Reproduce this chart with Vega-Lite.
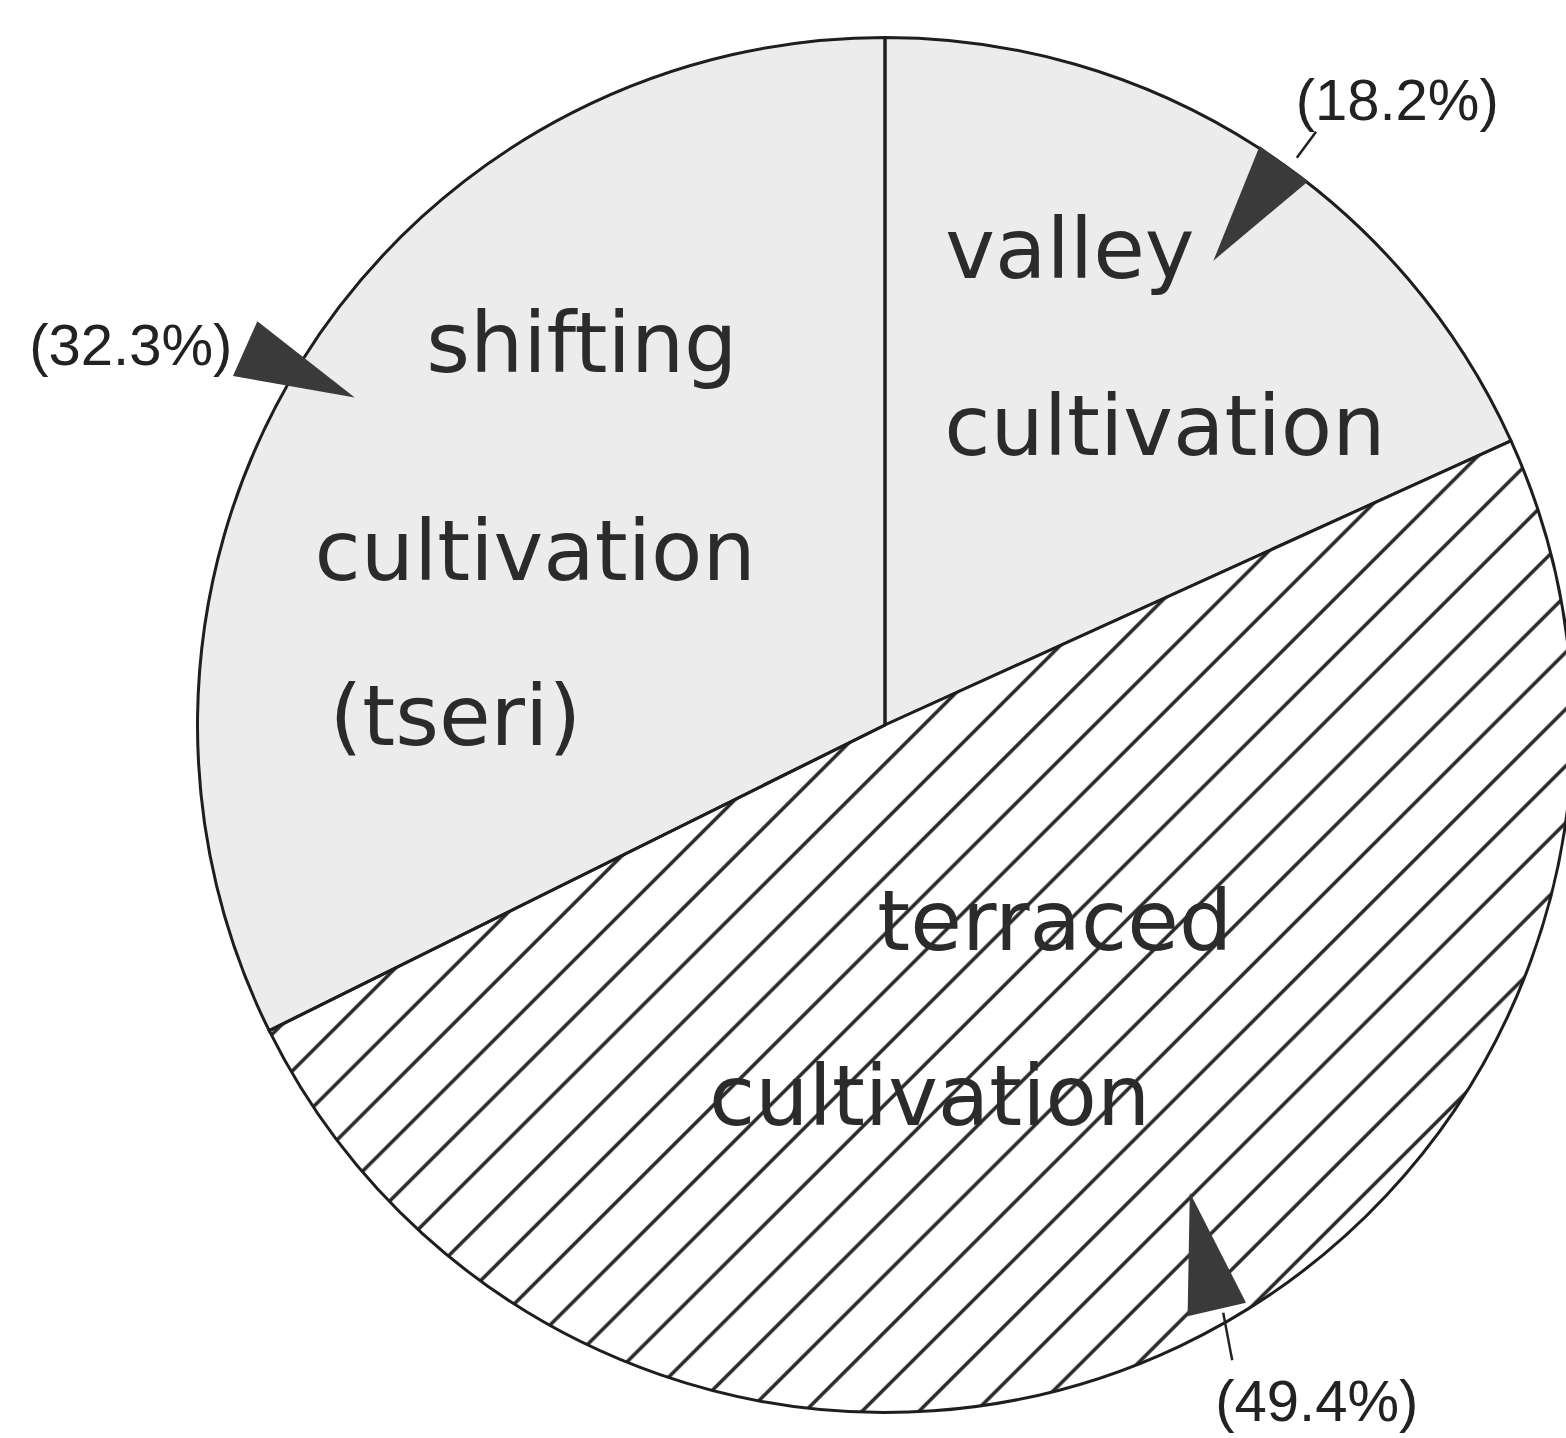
{
  "$schema": "https://vega.github.io/schema/vega-lite/v6.json",
  "width": 1362,
  "height": 1375,
  "autosize": "none",
  "padding": {"left": 204, "top": 37.5, "right": 0, "bottom": 25.5},
  "background": "white",
  "config": {"view": {"stroke": null}},
  "datasets": {
    "slices": [
      {"category": "valley cultivation", "share": 18.2, "ord": 1, "pattern": "dots"},
      {"category": "terraced cultivation", "share": 49.4, "ord": 2, "pattern": "hatch"},
      {"category": "shifting cultivation (tseri)", "share": 32.3, "ord": 3, "pattern": "dots"}
    ],
    "labels": [
      {"text": "valley", "u": 0.269, "v": 0.650},
      {"text": "cultivation", "u": 0.407, "v": 0.393},
      {"text": "shifting", "u": -0.441, "v": 0.513},
      {"text": "cultivation", "u": -0.509, "v": 0.211},
      {"text": "(tseri)", "u": -0.625, "v": -0.029},
      {"text": "terraced", "u": 0.247, "v": -0.327},
      {"text": "cultivation", "u": 0.065, "v": -0.582}
    ],
    "pcts": [
      {"text": "(18.2%)", "u": 0.745, "v": 0.880},
      {"text": "(32.3%)", "u": -1.097, "v": 0.524},
      {"text": "(49.4%)", "u": 0.628, "v": -1.012}
    ],
    "leaders": [
      {"id": "valley", "u": 0.599, "v": 0.825},
      {"id": "valley", "u": 0.627, "v": 0.863},
      {"id": "terraced", "u": 0.492, "v": -0.855},
      {"id": "terraced", "u": 0.505, "v": -0.924}
    ],
    "arrows": [
      {"id": "valley", "u": 0.529, "v": 0.746},
      {"id": "shifting", "u": -0.851, "v": 0.512},
      {"id": "terraced", "u": 0.463, "v": -0.765}
    ]
  },
  "layer": [
    {
      "data": {"name": "slices"},
      "mark": {"type": "arc", "radius": 687.5, "fill": "#ececec", "stroke": null},
      "encoding": {
        "theta": {"field": "share", "type": "quantitative", "stack": true},
        "order": {"field": "ord", "type": "quantitative"}
      }
    },
    {
      "data": {"name": "slices"},
      "mark": {
        "type": "arc",
        "radius": 687.5,
        "stroke": "#1e1e1e",
        "strokeWidth": 3,
        "fill": {
          "gradient": "linear",
          "x1": 0, "y1": 0, "x2": 1.1212, "y2": 0.8377,
          "stops": [
            {"offset": 0, "color": "#ffffff"},
            {"offset": 0.0109, "color": "#ffffff"}, {"offset": 0.0119, "color": "#2a2a2a"}, {"offset": 0.0131, "color": "#2a2a2a"}, {"offset": 0.0141, "color": "#ffffff"},
            {"offset": 0.0359, "color": "#ffffff"}, {"offset": 0.0369, "color": "#2a2a2a"}, {"offset": 0.0381, "color": "#2a2a2a"}, {"offset": 0.0391, "color": "#ffffff"},
            {"offset": 0.0609, "color": "#ffffff"}, {"offset": 0.0619, "color": "#2a2a2a"}, {"offset": 0.0631, "color": "#2a2a2a"}, {"offset": 0.0641, "color": "#ffffff"},
            {"offset": 0.0859, "color": "#ffffff"}, {"offset": 0.0869, "color": "#2a2a2a"}, {"offset": 0.0881, "color": "#2a2a2a"}, {"offset": 0.0891, "color": "#ffffff"},
            {"offset": 0.1109, "color": "#ffffff"}, {"offset": 0.1119, "color": "#2a2a2a"}, {"offset": 0.1131, "color": "#2a2a2a"}, {"offset": 0.1141, "color": "#ffffff"},
            {"offset": 0.1359, "color": "#ffffff"}, {"offset": 0.1369, "color": "#2a2a2a"}, {"offset": 0.1381, "color": "#2a2a2a"}, {"offset": 0.1391, "color": "#ffffff"},
            {"offset": 0.1609, "color": "#ffffff"}, {"offset": 0.1619, "color": "#2a2a2a"}, {"offset": 0.1631, "color": "#2a2a2a"}, {"offset": 0.1641, "color": "#ffffff"},
            {"offset": 0.1859, "color": "#ffffff"}, {"offset": 0.1869, "color": "#2a2a2a"}, {"offset": 0.1881, "color": "#2a2a2a"}, {"offset": 0.1891, "color": "#ffffff"},
            {"offset": 0.2109, "color": "#ffffff"}, {"offset": 0.2119, "color": "#2a2a2a"}, {"offset": 0.2131, "color": "#2a2a2a"}, {"offset": 0.2141, "color": "#ffffff"},
            {"offset": 0.2359, "color": "#ffffff"}, {"offset": 0.2369, "color": "#2a2a2a"}, {"offset": 0.2381, "color": "#2a2a2a"}, {"offset": 0.2391, "color": "#ffffff"},
            {"offset": 0.2609, "color": "#ffffff"}, {"offset": 0.2619, "color": "#2a2a2a"}, {"offset": 0.2631, "color": "#2a2a2a"}, {"offset": 0.2641, "color": "#ffffff"},
            {"offset": 0.2859, "color": "#ffffff"}, {"offset": 0.2869, "color": "#2a2a2a"}, {"offset": 0.2881, "color": "#2a2a2a"}, {"offset": 0.2891, "color": "#ffffff"},
            {"offset": 0.3109, "color": "#ffffff"}, {"offset": 0.3119, "color": "#2a2a2a"}, {"offset": 0.3131, "color": "#2a2a2a"}, {"offset": 0.3141, "color": "#ffffff"},
            {"offset": 0.3359, "color": "#ffffff"}, {"offset": 0.3369, "color": "#2a2a2a"}, {"offset": 0.3381, "color": "#2a2a2a"}, {"offset": 0.3391, "color": "#ffffff"},
            {"offset": 0.3609, "color": "#ffffff"}, {"offset": 0.3619, "color": "#2a2a2a"}, {"offset": 0.3631, "color": "#2a2a2a"}, {"offset": 0.3641, "color": "#ffffff"},
            {"offset": 0.3859, "color": "#ffffff"}, {"offset": 0.3869, "color": "#2a2a2a"}, {"offset": 0.3881, "color": "#2a2a2a"}, {"offset": 0.3891, "color": "#ffffff"},
            {"offset": 0.4109, "color": "#ffffff"}, {"offset": 0.4119, "color": "#2a2a2a"}, {"offset": 0.4131, "color": "#2a2a2a"}, {"offset": 0.4141, "color": "#ffffff"},
            {"offset": 0.4359, "color": "#ffffff"}, {"offset": 0.4369, "color": "#2a2a2a"}, {"offset": 0.4381, "color": "#2a2a2a"}, {"offset": 0.4391, "color": "#ffffff"},
            {"offset": 0.4609, "color": "#ffffff"}, {"offset": 0.4619, "color": "#2a2a2a"}, {"offset": 0.4631, "color": "#2a2a2a"}, {"offset": 0.4641, "color": "#ffffff"},
            {"offset": 0.4859, "color": "#ffffff"}, {"offset": 0.4869, "color": "#2a2a2a"}, {"offset": 0.4881, "color": "#2a2a2a"}, {"offset": 0.4891, "color": "#ffffff"},
            {"offset": 0.5109, "color": "#ffffff"}, {"offset": 0.5119, "color": "#2a2a2a"}, {"offset": 0.5131, "color": "#2a2a2a"}, {"offset": 0.5141, "color": "#ffffff"},
            {"offset": 0.5359, "color": "#ffffff"}, {"offset": 0.5369, "color": "#2a2a2a"}, {"offset": 0.5381, "color": "#2a2a2a"}, {"offset": 0.5391, "color": "#ffffff"},
            {"offset": 0.5609, "color": "#ffffff"}, {"offset": 0.5619, "color": "#2a2a2a"}, {"offset": 0.5631, "color": "#2a2a2a"}, {"offset": 0.5641, "color": "#ffffff"},
            {"offset": 0.5859, "color": "#ffffff"}, {"offset": 0.5869, "color": "#2a2a2a"}, {"offset": 0.5881, "color": "#2a2a2a"}, {"offset": 0.5891, "color": "#ffffff"},
            {"offset": 0.6109, "color": "#ffffff"}, {"offset": 0.6119, "color": "#2a2a2a"}, {"offset": 0.6131, "color": "#2a2a2a"}, {"offset": 0.6141, "color": "#ffffff"},
            {"offset": 0.6359, "color": "#ffffff"}, {"offset": 0.6369, "color": "#2a2a2a"}, {"offset": 0.6381, "color": "#2a2a2a"}, {"offset": 0.6391, "color": "#ffffff"},
            {"offset": 0.6609, "color": "#ffffff"}, {"offset": 0.6619, "color": "#2a2a2a"}, {"offset": 0.6631, "color": "#2a2a2a"}, {"offset": 0.6641, "color": "#ffffff"},
            {"offset": 0.6859, "color": "#ffffff"}, {"offset": 0.6869, "color": "#2a2a2a"}, {"offset": 0.6881, "color": "#2a2a2a"}, {"offset": 0.6891, "color": "#ffffff"},
            {"offset": 0.7109, "color": "#ffffff"}, {"offset": 0.7119, "color": "#2a2a2a"}, {"offset": 0.7131, "color": "#2a2a2a"}, {"offset": 0.7141, "color": "#ffffff"},
            {"offset": 0.7359, "color": "#ffffff"}, {"offset": 0.7369, "color": "#2a2a2a"}, {"offset": 0.7381, "color": "#2a2a2a"}, {"offset": 0.7391, "color": "#ffffff"},
            {"offset": 0.7609, "color": "#ffffff"}, {"offset": 0.7619, "color": "#2a2a2a"}, {"offset": 0.7631, "color": "#2a2a2a"}, {"offset": 0.7641, "color": "#ffffff"},
            {"offset": 0.7859, "color": "#ffffff"}, {"offset": 0.7869, "color": "#2a2a2a"}, {"offset": 0.7881, "color": "#2a2a2a"}, {"offset": 0.7891, "color": "#ffffff"},
            {"offset": 0.8109, "color": "#ffffff"}, {"offset": 0.8119, "color": "#2a2a2a"}, {"offset": 0.8131, "color": "#2a2a2a"}, {"offset": 0.8141, "color": "#ffffff"},
            {"offset": 0.8359, "color": "#ffffff"}, {"offset": 0.8369, "color": "#2a2a2a"}, {"offset": 0.8381, "color": "#2a2a2a"}, {"offset": 0.8391, "color": "#ffffff"},
            {"offset": 0.8609, "color": "#ffffff"}, {"offset": 0.8619, "color": "#2a2a2a"}, {"offset": 0.8631, "color": "#2a2a2a"}, {"offset": 0.8641, "color": "#ffffff"},
            {"offset": 0.8859, "color": "#ffffff"}, {"offset": 0.8869, "color": "#2a2a2a"}, {"offset": 0.8881, "color": "#2a2a2a"}, {"offset": 0.8891, "color": "#ffffff"},
            {"offset": 0.9109, "color": "#ffffff"}, {"offset": 0.9119, "color": "#2a2a2a"}, {"offset": 0.9131, "color": "#2a2a2a"}, {"offset": 0.9141, "color": "#ffffff"},
            {"offset": 0.9359, "color": "#ffffff"}, {"offset": 0.9369, "color": "#2a2a2a"}, {"offset": 0.9381, "color": "#2a2a2a"}, {"offset": 0.9391, "color": "#ffffff"},
            {"offset": 0.9609, "color": "#ffffff"}, {"offset": 0.9619, "color": "#2a2a2a"}, {"offset": 0.9631, "color": "#2a2a2a"}, {"offset": 0.9641, "color": "#ffffff"},
            {"offset": 0.9859, "color": "#ffffff"}, {"offset": 0.9869, "color": "#2a2a2a"}, {"offset": 0.9881, "color": "#2a2a2a"}, {"offset": 0.9891, "color": "#ffffff"},
            {"offset": 1, "color": "#ffffff"}
          ]
        }
      },
      "encoding": {
        "theta": {"field": "share", "type": "quantitative", "stack": true},
        "order": {"field": "ord", "type": "quantitative"},
        "fillOpacity": {"condition": {"test": "datum.pattern === 'hatch'", "value": 1}, "value": 0}
      }
    },
    {
      "data": {"name": "labels"},
      "mark": {"type": "text", "font": "DejaVu Sans", "fontSize": 84, "align": "center", "baseline": "alphabetic", "fill": "#2b2b2b"},
      "encoding": {
        "x": {"field": "u", "type": "quantitative", "scale": {"domain": [-0.99055, 0.99055], "nice": false, "zero": false}, "axis": null},
        "y": {"field": "v", "type": "quantitative", "scale": {"domain": [-1, 1], "nice": false, "zero": false}, "axis": null},
        "text": {"field": "text"}
      }
    },
    {
      "data": {"name": "pcts"},
      "mark": {"type": "text", "font": "Liberation Sans", "fontSize": 58, "align": "center", "baseline": "alphabetic", "fill": "#222222"},
      "encoding": {
        "x": {"field": "u", "type": "quantitative", "scale": {"domain": [-0.99055, 0.99055], "nice": false, "zero": false}, "axis": null},
        "y": {"field": "v", "type": "quantitative", "scale": {"domain": [-1, 1], "nice": false, "zero": false}, "axis": null},
        "text": {"field": "text"}
      }
    },
    {
      "data": {"name": "leaders"},
      "mark": {"type": "line", "stroke": "#222222", "strokeWidth": 2.5},
      "encoding": {
        "x": {"field": "u", "type": "quantitative", "scale": {"domain": [-0.99055, 0.99055], "nice": false, "zero": false}, "axis": null},
        "y": {"field": "v", "type": "quantitative", "scale": {"domain": [-1, 1], "nice": false, "zero": false}, "axis": null},
        "detail": {"field": "id"}
      }
    },
    {
      "data": {"name": "arrows"},
      "transform": [{"filter": "datum.id === 'valley'"}],
      "mark": {"type": "point", "filled": true, "opacity": 1, "fill": "#3a3a3a", "shape": "M0,-1L0.5,1L-0.5,1Z", "size": 14400, "angle": 216},
      "encoding": {
        "x": {"field": "u", "type": "quantitative", "scale": {"domain": [-0.99055, 0.99055], "nice": false, "zero": false}, "axis": null},
        "y": {"field": "v", "type": "quantitative", "scale": {"domain": [-1, 1], "nice": false, "zero": false}, "axis": null}
      }
    },
    {
      "data": {"name": "arrows"},
      "transform": [{"filter": "datum.id === 'shifting'"}],
      "mark": {"type": "point", "filled": true, "opacity": 1, "fill": "#3a3a3a", "shape": "M0,-1L0.5,1L-0.5,1Z", "size": 14400, "angle": 114},
      "encoding": {
        "x": {"field": "u", "type": "quantitative", "scale": {"domain": [-0.99055, 0.99055], "nice": false, "zero": false}, "axis": null},
        "y": {"field": "v", "type": "quantitative", "scale": {"domain": [-1, 1], "nice": false, "zero": false}, "axis": null}
      }
    },
    {
      "data": {"name": "arrows"},
      "transform": [{"filter": "datum.id === 'terraced'"}],
      "mark": {"type": "point", "filled": true, "opacity": 1, "fill": "#3a3a3a", "shape": "M0,-1L0.5,1L-0.5,1Z", "size": 14400, "angle": 347},
      "encoding": {
        "x": {"field": "u", "type": "quantitative", "scale": {"domain": [-0.99055, 0.99055], "nice": false, "zero": false}, "axis": null},
        "y": {"field": "v", "type": "quantitative", "scale": {"domain": [-1, 1], "nice": false, "zero": false}, "axis": null}
      }
    }
  ]
}
